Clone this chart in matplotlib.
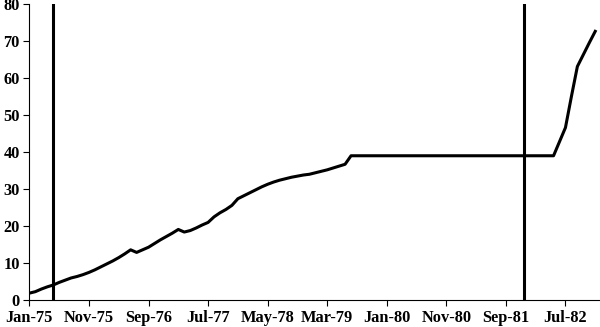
import matplotlib.pyplot as plt
import numpy as np

# monthly series, Jan-75 .. Dec-82
values = [1.9, 2.3, 3.0, 3.6, 4.1, 4.8, 5.4, 6.0, 6.4, 6.9, 7.5, 8.2,
          9.0, 9.8, 10.6, 11.5, 12.5, 13.6, 12.9, 13.6, 14.3, 15.3, 16.3, 17.2,
          18.1, 19.1, 18.4, 18.8, 19.5, 20.3, 21.0, 22.5, 23.6, 24.5, 25.6, 27.4,
          28.2, 29.0, 29.8, 30.6, 31.3, 31.9, 32.4, 32.8, 33.2, 33.5, 33.8, 34.0,
          34.4, 34.8, 35.2, 35.7, 36.2, 36.7] + [39.0] * 35 + \
         [42.8, 46.6, 55.0, 63.1, 66.3, 69.5, 72.6]

tick_labels = ['Jan-75', 'Nov-75', 'Sep-76', 'Jul-77', 'May-78', 'Mar-79',
               'Jan-80', 'Nov-80', 'Sep-81', 'Jul-82']
tick_step = 10
event_months = [4, 83]  # May-75, Dec-81

plt.rcParams['font.family'] = 'Liberation Serif'
plt.rcParams['font.weight'] = 'bold'

fig = plt.figure(figsize=(6, 3.27), dpi=100)
ax = fig.add_axes([0.049, 0.082, 0.951, 0.906])

x = np.arange(len(values))
ax.plot(x, values, color='black', linewidth=2.2, solid_joinstyle='round')
for m in event_months:
    ax.axvline(m, color='black', linewidth=2.2)

ax.set_xlim(0, 95.8)
ax.set_ylim(0, 80)
ax.set_xticks(np.arange(len(tick_labels)) * tick_step)
ax.set_xticklabels(tick_labels)
ax.set_yticks(range(0, 81, 10))
ax.tick_params(labelsize=11.8, length=4, width=0.8, direction='out', pad=3)
ax.spines['top'].set_visible(False)
ax.spines['right'].set_visible(False)
for s in ['left', 'bottom']:
    ax.spines[s].set_linewidth(0.8)

fig.savefig('out.png', dpi=100)
